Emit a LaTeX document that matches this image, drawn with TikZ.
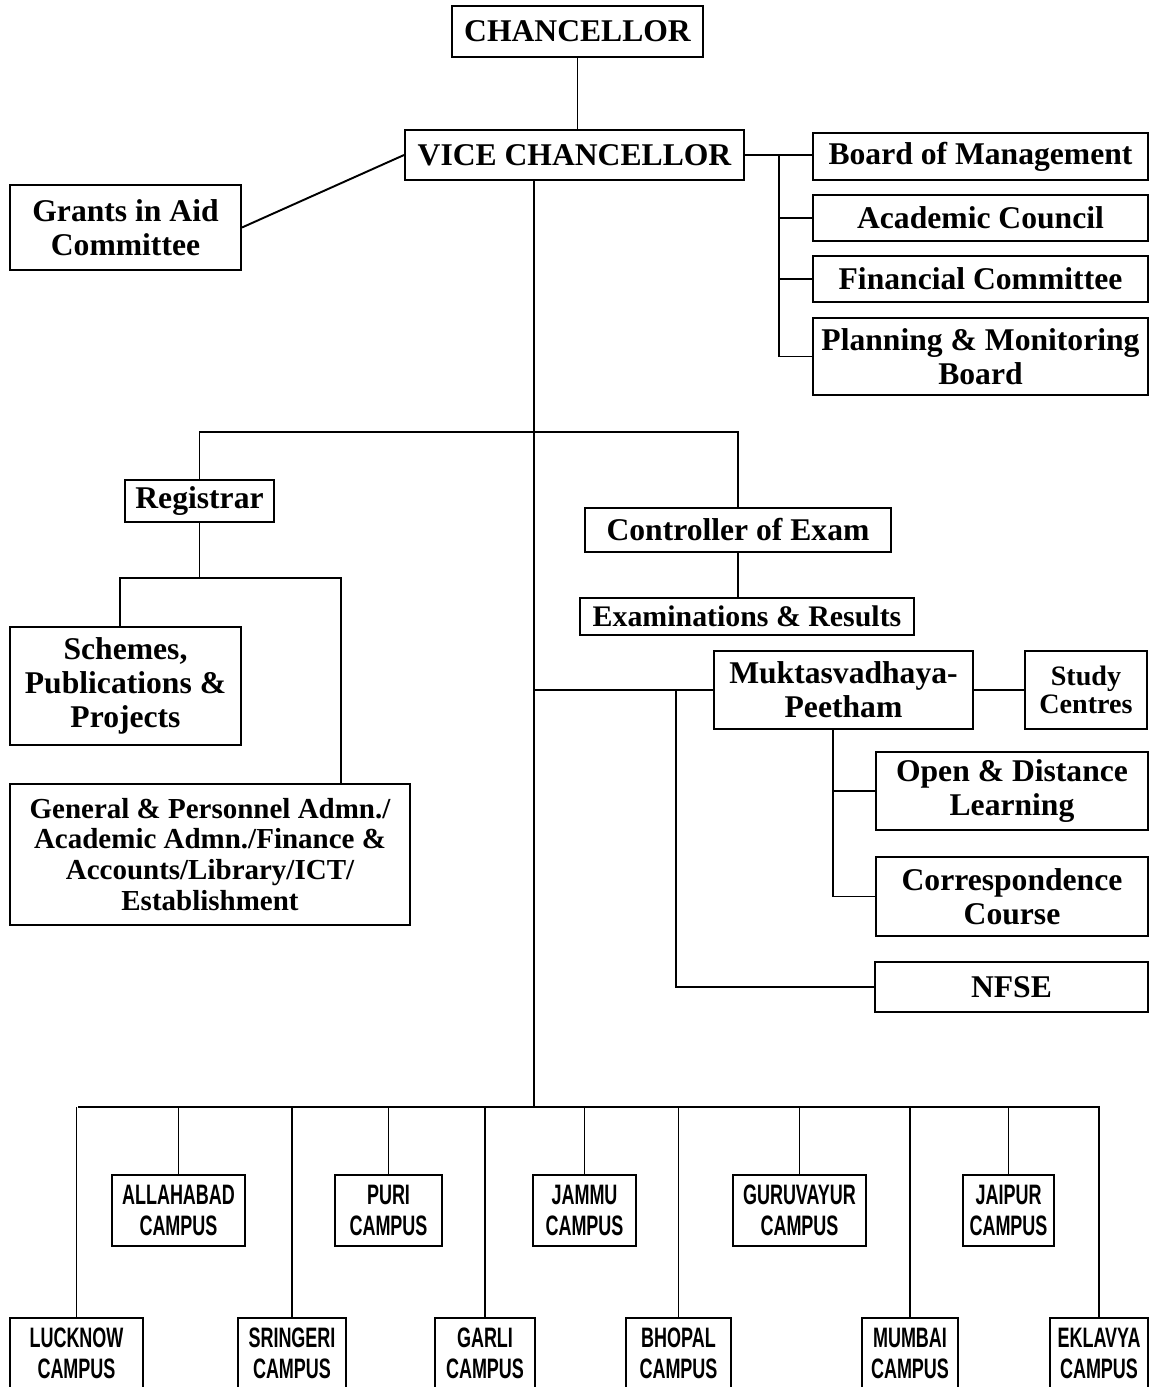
\documentclass[tikz,border=0pt]{standalone}
\usepackage{fontspec}
\setmainfont{Liberation Serif}
\newfontfamily\campusfont[FakeStretch=0.64]{Liberation Sans}
\newcommand{\serifbf}{\bfseries\fontsize{18}{19.5}\selectfont}
\newcommand{\campusbf}{\campusfont\bfseries\fontsize{16}{17.5}\selectfont}
\tikzset{
  box/.style={draw, line width=1.1pt, align=center, inner sep=0pt, font=\serifbf},
  campus/.style={box, font=\campusbf},
  span/.style n args={4}{minimum width={(#3-#1)*0.02cm}, minimum height={(#4-#2)*0.02cm},
    at={({(#1+#3)/2},{(#2+#4)/2})}},
}
\begin{document}
\begin{tikzpicture}[x=0.02cm, y=-0.02cm, line width=1.1pt]
\useasboundingbox (0,0) rectangle (1151,1387);
% top of the chart
\node[box, span={452}{6}{703}{57}] (chan) {CHANCELLOR};
\node[box, span={405}{130}{744}{180}] (vc) {VICE CHANCELLOR};
\node[box, span={10}{185}{241}{270}] (gia) {Grants in Aid\\Committee};
\node[box, span={813}{133}{1148}{180}] (bom) {Board of Management};
\node[box, span={813}{195}{1148}{241}] (acc) {Academic Council};
\node[box, span={813}{256}{1148}{302}] (fic) {Financial Committee};
\node[box, span={813}{318}{1148}{395}] (pmb) {Planning \& Monitoring\\Board};
\draw (chan.south) -- (chan.south |- vc.north);
\draw (gia.east) -- (vc.west);
\coordinate (brk) at (779,155);
\draw (vc.east) -- (vc.east -| bom.west);
\draw (brk) |- (pmb.west);
\draw (brk |- acc.west) -- (acc.west);
\draw (brk |- fic.west) -- (fic.west);
% registrar and exams
\node[box, span={125}{480}{274}{522}] (reg) {Registrar};
\node[box, span={585}{508}{891}{552}] (coe) {Controller of Exam};
\node[box, span={580}{598}{914}{635}, font=\bfseries\fontsize{17}{19}\selectfont] (exr) {Examinations \& Results};
\node[box, span={10}{627}{241}{745}] (spp) {Schemes,\\Publications \&\\Projects};
\node[box, span={10}{784}{410}{925}, font=\bfseries\fontsize{16.5}{17.6}\selectfont] (gpa)
  {General \& Personnel Admn./\\Academic Admn./Finance \&\\Accounts/Library/ICT/\\Establishment};
\coordinate (split) at (534,432);
\coordinate (cbus) at (534,1107);
\draw (vc.south -| cbus) -- (cbus);
\draw (reg.north) |- (split) -| (coe.north);
\draw (coe.south) -- (coe.south |- exr.north);
\coordinate (rl) at (120,578);
\coordinate (rr) at (341,578);
\draw (reg.south) -- (reg.south |- rl);
\draw (rl |- spp.north) -- (rl) -- (rr) -- (rr |- gpa.north);
% muktasvadhaya-peetham
\node[box, span={714}{651}{973}{729}] (mvp) {Muktasvadhaya-\\Peetham};
\node[box, span={1025}{651}{1147}{729}, font=\bfseries\fontsize{16}{16}\selectfont] (stc) {Study\\Centres};
\node[box, span={876}{752}{1148}{830}] (odl) {Open \& Distance\\Learning};
\node[box, span={876}{857}{1148}{936}] (crc) {Correspondence\\Course};
\node[box, span={875}{962}{1148}{1012}] (nfse) {NFSE};
\draw (mvp.west -| cbus) -- (mvp.west);
\draw (mvp.east) -- (stc.west);
\coordinate (nfj) at (676,691);
\draw (nfj) |- (nfse.west);
\coordinate (mdrop) at (833,729);
\draw (mdrop) |- (crc.west);
\draw (mdrop |- odl.west) -- (odl.west);
% campuses
\coordinate (busl) at (78,1107);
\coordinate (busr) at (1100,1107);
\draw (busl) -- (busr);
\foreach \nm/\xa/\xb/\txt in {all/112/245/ALLAHABAD, pur/335/442/PURI, jam/533/636/JAMMU,
    gur/733/866/GURUVAYUR, jai/963/1054/JAIPUR}{
  \node[campus, span={\xa}{1175}{\xb}{1246}] (\nm) {\txt\\CAMPUS};
  \draw (\nm.north) -- (\nm.north |- cbus);
}
\foreach \nm/\xa/\xb/\txt in {luc/10/143/LUCKNOW, sri/238/346/SRINGERI, gar/435/535/GARLI,
    bho/626/731/BHOPAL, mum/862/958/MUMBAI, ekl/1050/1148/EKLAVYA}{
  \node[campus, span={\xa}{1318}{\xb}{1389}] (\nm) {\txt\\CAMPUS};
  \draw (\nm.north) -- (\nm.north |- cbus);
}
\end{tikzpicture}
\end{document}
